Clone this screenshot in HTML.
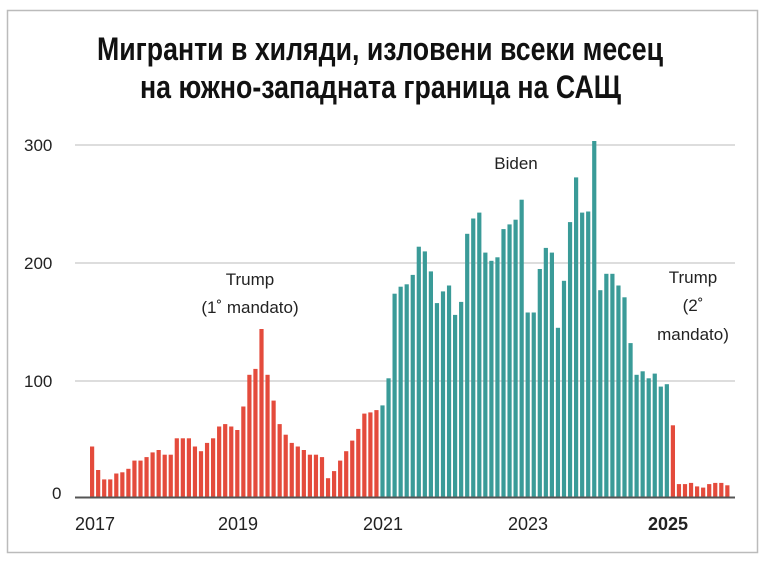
<!DOCTYPE html>
<html><head><meta charset="utf-8"><style>
body{margin:0;background:#fff;}
svg{display:block;}
text{font-family:"Liberation Sans Narrow","Liberation Sans",sans-serif;fill:#222;}
</style></head><body>
<svg width="769" height="563" viewBox="0 0 769 563" xmlns="http://www.w3.org/2000/svg">
<rect x="0" y="0" width="769" height="563" fill="#fff"/>
<rect x="7.5" y="10.5" width="750" height="542" fill="none" stroke="#bbb" stroke-width="1.5"/>
<text x="97" y="60" textLength="566" lengthAdjust="spacingAndGlyphs" font-size="32" font-weight="bold" style="fill:#111">Мигранти в хиляди, изловени всеки месец</text>
<text x="140" y="98" textLength="481" lengthAdjust="spacingAndGlyphs" font-size="32" font-weight="bold" style="fill:#111">на южно-западната граница на САЩ</text>
<g stroke="#ddd" stroke-width="2">
<line x1="75" y1="145" x2="735" y2="145"/>
<line x1="75" y1="263" x2="735" y2="263"/>
<line x1="75" y1="381" x2="735" y2="381"/>
</g>
<g font-size="17" style="fill:#333">
<text x="24" y="151">300</text><text x="24" y="269">200</text><text x="24" y="387">100</text><text x="52" y="499">0</text>
</g>
<g id="bars"></g>
<line x1="75" y1="497.5" x2="735" y2="497.5" stroke="#555" stroke-width="2"/>
<g font-size="18" text-anchor="middle">
<text x="95" y="530">2017</text><text x="238" y="530">2019</text><text x="383" y="530">2021</text><text x="528" y="530">2023</text><text x="668" y="530" font-weight="bold">2025</text>
</g>
<g font-size="17" text-anchor="middle">
<text x="250" y="285">Trump</text><text x="250" y="313">(1˚ mandato)</text>
<text x="516" y="169">Biden</text>
<text x="693" y="283">Trump</text><text x="693" y="311">(2˚</text><text x="693" y="340">mandato)</text>
</g>
</svg>
<script>
var v=[43,23,15,15,20,21,24,31,31,34,38,40,36,36,50,50,50,43,39,46,50,60,62,60,57,77,104,109,143,104,82,62,53,46,43,40,36,36,34,16,22,31,39,48,58,71,72,74,
78,101,173,179,181,189,213,209,192,165,175,180,155,166,224,237,242,208,201,204,228,232,236,253,157,157,194,212,208,144,184,234,272,242,243,303,176,190,190,180,170,131,104,107,101,105,94,96,
61,11,11,12,9,8,11,12,12,10];
var g=document.getElementById('bars'),s='';
for(var i=0;i<v.length;i++){var x=90+i*6.05,h=v[i]*1.175;var c=(i>=48&&i<96)?'#3a9b98':'#e44b3c';
s+='<rect x="'+x.toFixed(2)+'" y="'+(497-h).toFixed(1)+'" width="4.2" height="'+h.toFixed(1)+'" fill="'+c+'"/>';}
g.innerHTML=s;
</script>
</body></html>
